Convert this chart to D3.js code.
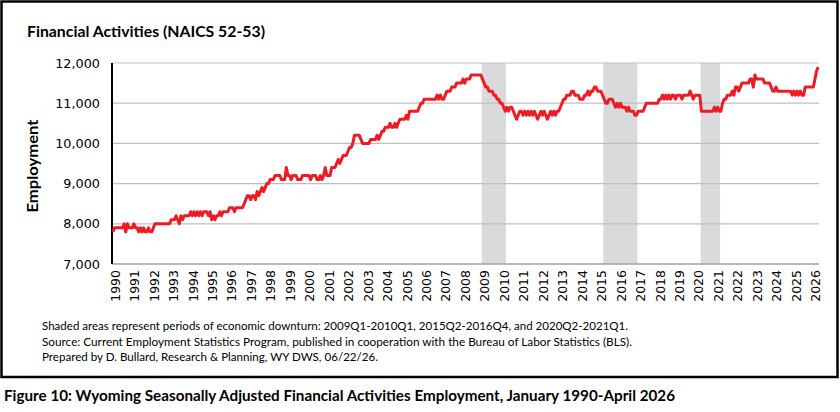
<!DOCTYPE html>
<html>
<head>
<meta charset="utf-8">
<script src="https://cdn.jsdelivr.net/npm/d3@7"></script>
<style>
  body { margin: 0; background: #fff; }
</style>
</head>
<body>
<svg id="chart" width="840" height="412"></svg>
<script>
// Wyoming financial activities employment, seasonally adjusted, monthly from Jan 1990
var startYear = 1990;
var employment = [
  7800, 7900, 7900, 7900, 7900, 7900, 7900, 8000, 7800, 8000, 7900, 7900, // 1990
  7900, 8000, 7900, 7900, 7800, 7900, 7800, 7900, 7800, 7800, 7900, 7800, // 1991
  7800, 7900, 8000, 8000, 8000, 8000, 8000, 8000, 8000, 8000, 8000, 8000, // 1992
  8100, 8100, 8100, 8200, 8100, 8000, 8200, 8100, 8200, 8200, 8200, 8200, // 1993
  8300, 8200, 8300, 8200, 8300, 8200, 8300, 8200, 8300, 8300, 8300, 8200, // 1994
  8300, 8100, 8200, 8100, 8200, 8200, 8300, 8200, 8300, 8300, 8300, 8300, // 1995
  8400, 8400, 8400, 8300, 8400, 8400, 8400, 8400, 8400, 8500, 8600, 8700, // 1996
  8700, 8600, 8700, 8700, 8600, 8800, 8700, 8800, 8900, 8800, 8900, 9000, // 1997
  9000, 9100, 9100, 9100, 9200, 9200, 9200, 9200, 9100, 9100, 9100, 9400, // 1998
  9200, 9200, 9100, 9200, 9200, 9200, 9100, 9100, 9100, 9200, 9200, 9200, // 1999
  9200, 9200, 9100, 9200, 9200, 9200, 9100, 9100, 9200, 9100, 9200, 9400, // 2000
  9200, 9200, 9200, 9400, 9400, 9400, 9500, 9600, 9500, 9600, 9700, 9700, // 2001
  9700, 9800, 9900, 9900, 10000, 10200, 10200, 10200, 10200, 10100, 10000, 10000, // 2002
  10000, 10000, 10000, 10100, 10100, 10100, 10100, 10200, 10100, 10200, 10300, 10300, // 2003
  10400, 10400, 10400, 10500, 10400, 10400, 10500, 10400, 10500, 10600, 10600, 10600, // 2004
  10600, 10700, 10600, 10800, 10800, 10800, 10800, 10800, 10800, 10900, 11000, 11000, // 2005
  11100, 11100, 11100, 11100, 11100, 11100, 11100, 11100, 11200, 11100, 11200, 11100, // 2006
  11100, 11200, 11300, 11300, 11300, 11400, 11400, 11400, 11500, 11500, 11500, 11500, // 2007
  11600, 11500, 11600, 11600, 11600, 11700, 11700, 11700, 11700, 11700, 11700, 11700, // 2008
  11600, 11500, 11400, 11400, 11300, 11300, 11300, 11200, 11200, 11100, 11100, 11000, // 2009
  11000, 10900, 10800, 10900, 10800, 10900, 10900, 10800, 10700, 10600, 10700, 10800, // 2010
  10800, 10700, 10800, 10700, 10800, 10700, 10800, 10700, 10800, 10700, 10600, 10700, // 2011
  10800, 10700, 10800, 10700, 10600, 10700, 10800, 10700, 10800, 10700, 10800, 10800, // 2012
  10900, 11000, 11100, 11100, 11200, 11200, 11200, 11300, 11300, 11200, 11200, 11200, // 2013
  11100, 11100, 11100, 11200, 11200, 11300, 11200, 11300, 11300, 11400, 11400, 11300, // 2014
  11300, 11300, 11200, 11100, 11000, 11000, 11100, 11100, 11100, 11000, 10900, 11000, // 2015
  10900, 11000, 10900, 10900, 10900, 10800, 10900, 10800, 10800, 10800, 10700, 10700, // 2016
  10800, 10800, 10800, 10800, 10900, 11000, 11000, 11000, 11000, 11000, 11000, 11000, // 2017
  11000, 11100, 11100, 11200, 11100, 11200, 11100, 11200, 11100, 11200, 11200, 11100, // 2018
  11200, 11200, 11200, 11100, 11200, 11200, 11200, 11200, 11300, 11200, 11100, 11200, // 2019
  11200, 11200, 11200, 10800, 10800, 10800, 10800, 10800, 10800, 10800, 10800, 10900, // 2020
  10800, 10900, 10800, 10800, 11000, 11100, 11100, 11200, 11200, 11200, 11300, 11200, // 2021
  11400, 11400, 11300, 11400, 11500, 11500, 11500, 11500, 11500, 11600, 11600, 11400, // 2022
  11700, 11600, 11600, 11600, 11600, 11600, 11500, 11500, 11500, 11500, 11400, 11300, // 2023
  11300, 11400, 11300, 11300, 11300, 11300, 11300, 11300, 11300, 11300, 11300, 11200, // 2024
  11300, 11200, 11300, 11200, 11300, 11200, 11200, 11400, 11400, 11400, 11400, 11400, // 2025
  11400, 11600, 11800, 11900                                                          // 2026
];
// downturn periods: [first month, last month]
var downturns = [["2009-01", "2010-03"], ["2015-04", "2016-12"], ["2020-04", "2021-03"]];
var yTicks = [7000, 8000, 9000, 10000, 11000, 12000];
var yearLabels = d3.range(1990, 2027);

var notes = [
  "Shaded areas represent periods of economic downturn: 2009Q1-2010Q1, 2015Q2-2016Q4, and 2020Q2-2021Q1.",
  "Source: Current Employment Statistics Program, published in cooperation with the Bureau of Labor Statistics (BLS).",
  "Prepared by D. Bullard, Research & Planning, WY DWS, 06/22/26."
];

var svg = d3.select("#chart");
var plotLeft = 112, plotRight = 819, plotTop = 63, plotBottom = 264;

function monthIndex(s) {
  var p = s.split("-");
  return (+p[0] - startYear) * 12 + (+p[1] - 1);
}

var x = d3.scaleLinear()
  .domain([-0.5, employment.length - 0.5])
  .range([plotLeft, plotRight]);
var y = d3.scaleLinear()
  .domain([7000, 12000])
  .range([plotBottom, plotTop]);

// outer frame
svg.append("rect")
  .attr("x", 1.5).attr("y", 1.5)
  .attr("width", 836).attr("height", 375.5)
  .attr("fill", "none")
  .attr("stroke", "#000")
  .attr("stroke-width", 2.5);

svg.append("text")
  .attr("x", 27).attr("y", 37)
  .attr("font-family", "Lato, sans-serif")
  .attr("font-weight", "bold")
  .attr("font-size", "16px")
  .attr("textLength", 238)
  .attr("lengthAdjust", "spacingAndGlyphs")
  .text("Financial Activities (NAICS 52-53)");

// shaded downturns
svg.selectAll("rect.downturn")
  .data(downturns)
  .enter().append("rect")
  .attr("class", "downturn")
  .attr("x", function(d) { return x(monthIndex(d[0]) - 0.5); })
  .attr("width", function(d) { return x(monthIndex(d[1]) + 0.5) - x(monthIndex(d[0]) - 0.5); })
  .attr("y", plotTop)
  .attr("height", plotBottom - plotTop)
  .attr("fill", "#d9dadc");

// gridlines
svg.selectAll("line.grid")
  .data(yTicks.slice(1))
  .enter().append("line")
  .attr("class", "grid")
  .attr("x1", plotLeft).attr("x2", plotRight)
  .attr("y1", function(d) { return y(d); })
  .attr("y2", function(d) { return y(d); })
  .attr("stroke", "#bfbfbf")
  .attr("stroke-width", 1.2);

var yAxis = d3.axisLeft(y)
  .tickValues(yTicks)
  .tickSize(0)
  .tickPadding(12)
  .tickFormat(d3.format(","));

svg.append("g")
  .attr("transform", "translate(" + plotLeft + ",0)")
  .call(yAxis)
  .call(function(g) { g.select(".domain").remove(); })
  .selectAll("text")
  .attr("font-family", "DejaVu Sans, sans-serif")
  .attr("font-size", "12.8px")
  .attr("fill", "#000");

// x axis with year labels at each January
svg.append("line")
  .attr("x1", plotLeft).attr("x2", plotRight)
  .attr("y1", plotBottom).attr("y2", plotBottom)
  .attr("stroke", "#a0a0a0")
  .attr("stroke-width", 1.5);

svg.append("line")
  .attr("x1", plotLeft).attr("x2", plotLeft)
  .attr("y1", plotTop).attr("y2", plotBottom)
  .attr("stroke", "#000")
  .attr("stroke-width", 2);

svg.selectAll("text.year")
  .data(yearLabels)
  .enter().append("text")
  .attr("class", "year")
  .attr("transform", function(d) {
    return "translate(" + (x((d - startYear) * 12) + 2.5) + "," + (plotBottom + 6) + ") rotate(-90)";
  })
  .attr("dy", "0.35em")
  .attr("text-anchor", "end")
  .attr("font-family", "DejaVu Sans, sans-serif")
  .attr("font-size", "12.5px")
  .text(function(d) { return d; });

svg.append("text")
  .attr("transform", "translate(38,166) rotate(-90)")
  .attr("text-anchor", "middle")
  .attr("font-family", "Lato, sans-serif")
  .attr("font-weight", "bold")
  .attr("font-size", "16px")
  .attr("textLength", 93)
  .attr("lengthAdjust", "spacingAndGlyphs")
  .text("Employment");

// the series
var line = d3.line()
  .x(function(d, i) { return x(i); })
  .y(function(d) { return y(d); });

svg.append("path")
  .datum(employment)
  .attr("d", line)
  .attr("fill", "none")
  .attr("stroke", "#ed1c24")
  .attr("stroke-width", 3)
  .attr("stroke-linejoin", "round");

// notes
var noteWidths = [586, 590, 336];
svg.selectAll("text.note")
  .data(notes)
  .enter().append("text")
  .attr("class", "note")
  .attr("x", 42)
  .attr("y", function(d, i) { return 330 + i * 15.5; })
  .attr("font-family", "Lato, sans-serif")
  .attr("font-size", "11.5px")
  .attr("textLength", function(d, i) { return noteWidths[i]; })
  .attr("lengthAdjust", "spacingAndGlyphs")
  .text(function(d) { return d; });

svg.append("text")
  .attr("x", 4).attr("y", 401)
  .attr("font-family", "Lato, sans-serif")
  .attr("font-weight", "bold")
  .attr("font-size", "15px")
  .attr("textLength", 671)
  .attr("lengthAdjust", "spacingAndGlyphs")
  .text("Figure 10: Wyoming Seasonally Adjusted Financial Activities Employment, January 1990-April 2026");
</script>
</body>
</html>
